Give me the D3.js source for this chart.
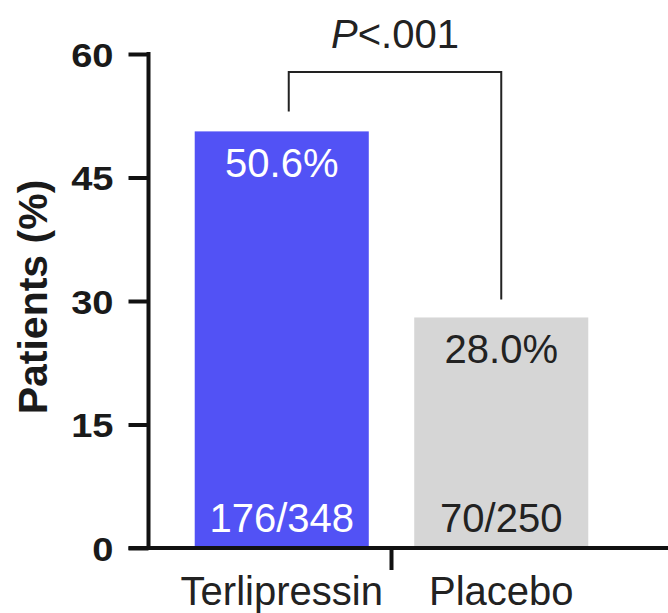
<!DOCTYPE html>
<html>
<head>
<meta charset="utf-8">
<script src="https://cdn.jsdelivr.net/npm/d3@7"></script>
<style>
  html, body { margin: 0; padding: 0; background: #fff; }
  svg { display: block; font-family: "Liberation Sans", Arial, sans-serif; }
</style>
</head>
<body>
<div id="chart"></div>
<script>
// data
const categories = ['Terlipressin', 'Placebo'];
const percents = [50.6, 28.0];
const counts = ['176/348', '70/250'];
const yTicks = [0, 15, 30, 45, 60];
const pLabel = '.001';

const W = 668, H = 613;
const colors = ['#5252f5', '#d6d6d6'];
const textColors = ['#ffffff', '#222222'];
const ink = '#111';

const svg = d3.select('#chart').append('svg')
  .attr('width', W)
  .attr('height', H);

const axisX = 148.5;   // y axis position
const tickLen = 20;
const stretch = 1.12;  // tick labels are drawn a bit wide in the original

const y = d3.scaleLinear().domain([0, 60]).range([548, 54]);
const x = d3.scaleBand()
  .domain(categories)
  .range([172, 611])
  .paddingInner(0.207)
  .paddingOuter(0.1035);

// bars
svg.selectAll('rect.bar')
  .data(categories)
  .join('rect')
  .attr('class', 'bar')
  .attr('x', d => x(d))
  .attr('width', x.bandwidth())
  .attr('y', (d, i) => y(percents[i]))
  .attr('height', (d, i) => y(0) - y(percents[i]))
  .attr('fill', (d, i) => colors[i]);

// percent labels
svg.selectAll('text.pct')
  .data(categories)
  .join('text')
  .attr('class', 'pct')
  .attr('x', d => x(d) + x.bandwidth() / 2)
  .attr('y', (d, i) => y(percents[i]) + 46)
  .attr('text-anchor', 'middle')
  .attr('font-size', 40)
  .attr('fill', (d, i) => textColors[i])
  .text((d, i) => percents[i].toFixed(1) + '%');

// count labels
svg.selectAll('text.cnt')
  .data(categories)
  .join('text')
  .attr('class', 'cnt')
  .attr('x', d => x(d) + x.bandwidth() / 2)
  .attr('y', y(0) - 16)
  .attr('text-anchor', 'middle')
  .attr('font-size', 40)
  .attr('fill', (d, i) => textColors[i])
  .text((d, i) => counts[i]);

// y axis
const yAxis = svg.append('g')
  .attr('transform', `translate(${axisX},0)`)
  .call(d3.axisLeft(y).tickValues(yTicks).tickSize(tickLen).tickSizeOuter(0).tickPadding(0));

yAxis.select('.domain')
  .attr('stroke', ink)
  .attr('stroke-width', 4)
  .attr('d', `M0,${y(60) - 2}V${y(0) + 2}`);
yAxis.selectAll('.tick line')
  .attr('stroke', ink)
  .attr('stroke-width', 4);
yAxis.selectAll('.tick text')
  .attr('font-family', '"Liberation Sans", Arial, sans-serif')
  .attr('font-size', 34)
  .attr('font-weight', 'bold')
  .attr('fill', '#1a1a1a')
  .attr('dy', '0.36em')
  .attr('x', -(tickLen + 15) / stretch)
  .attr('transform', `scale(${stretch},1)`);

// x axis line with a single divider tick between the groups
svg.append('line')
  .attr('x1', axisX - tickLen)
  .attr('x2', W)
  .attr('y1', y(0))
  .attr('y2', y(0))
  .attr('stroke', ink)
  .attr('stroke-width', 4);

const divX = (x(categories[0]) + x.bandwidth() + x(categories[1])) / 2;
svg.append('line')
  .attr('x1', divX)
  .attr('x2', divX)
  .attr('y1', y(0))
  .attr('y2', y(0) + 22)
  .attr('stroke', ink)
  .attr('stroke-width', 4);

// category labels
svg.selectAll('text.cat')
  .data(categories)
  .join('text')
  .attr('class', 'cat')
  .attr('x', d => x(d) + x.bandwidth() / 2)
  .attr('y', y(0) + 57)
  .attr('text-anchor', 'middle')
  .attr('font-size', 40)
  .attr('fill', '#222')
  .text(d => d);

// y axis title
svg.append('text')
  .attr('transform', `translate(47,${297}) rotate(-90)`)
  .attr('text-anchor', 'middle')
  .attr('font-size', 41)
  .attr('font-weight', 'bold')
  .attr('fill', '#1a1a1a')
  .text('Patients (%)');

// significance bracket
const bx1 = x(categories[0]) + x.bandwidth() / 2 + 7;
const bx2 = x(categories[1]) + x.bandwidth() / 2;
const bTop = y(60) + 18;
svg.append('path')
  .attr('d', `M${bx1},${y(percents[0]) - 20}V${bTop}H${bx2}V${y(percents[1]) - 18}`)
  .attr('fill', 'none')
  .attr('stroke', '#222')
  .attr('stroke-width', 2);

const pText = svg.append('text')
  .attr('x', (bx1 + bx2) / 2)
  .attr('y', 48)
  .attr('text-anchor', 'middle')
  .attr('font-size', 40)
  .attr('fill', '#222');
pText.append('tspan').attr('font-style', 'italic').text('P');
pText.append('tspan').text('<' + pLabel);
</script>
</body>
</html>
